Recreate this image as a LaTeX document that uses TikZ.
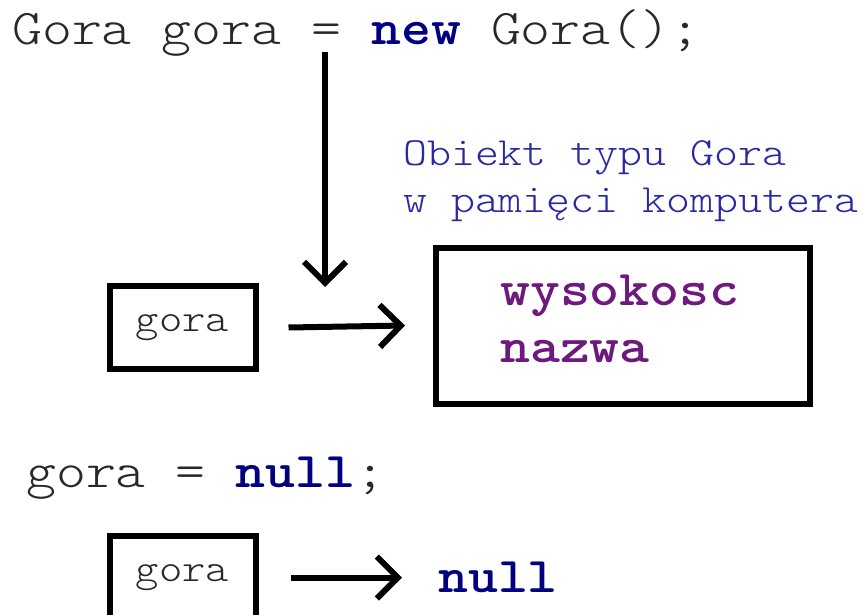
\documentclass[tikz,border=0pt]{standalone}
\usepackage{fontspec}
% light typewriter face widened to a 0.6em advance
\newfontfamily\codefont{lmmonolt10-regular.otf}[FakeStretch=1.14, BoldFont=lmmonolt10-bold.otf, BoldFeatures={FakeStretch=1.14}]
\usetikzlibrary{arrows.meta}
\definecolor{codegray}{RGB}{40,40,40}
\definecolor{kwnavy}{RGB}{0,0,128}
\definecolor{fieldpurple}{RGB}{110,25,125}
\definecolor{notesblue}{RGB}{40,40,165}
\begin{document}
\begin{tikzpicture}[x=1pt,y=-1pt,
  code/.style={inner sep=0pt, anchor=base west, text=codegray,
    font=\codefont\fontsize{50}{50}\selectfont},
  note/.style={inner sep=0pt, anchor=base west, text=notesblue,
    font=\codefont\fontsize{40}{40}\selectfont},
  field/.style={inner sep=0pt, anchor=base west, text=fieldpurple,
    font=\codefont\bfseries\fontsize{50}{50}\selectfont},
  refbox/.style={draw, line width=6pt, minimum width=146pt, minimum height=83pt,
    inner sep=0pt, text=codegray, font=\codefont\fontsize{39}{39}\selectfont},
  objbox/.style={draw, line width=6pt, minimum width=374pt, minimum height=156pt,
    inner sep=0pt},
  ptr/.style={line width=6pt, -{Straight Barb[length=21pt,width=42pt]}}
]
\useasboundingbox (0,0) rectangle (864,615);

% first statement: creating the object
\node[code] (decl) at (12,45) {Gora gora = \textbf{\color{kwnavy}new} Gora();};
\coordinate (declpt) at (325,52);
\coordinate (refpt) at (325,287);
\draw[ptr] (declpt) -- (refpt);

% reference variable and the object it points to
\node[refbox] (gora1) at (182.5,327.5) {gora};
\node[objbox] (obj) at (623,325.5) {};
\node[note] (note1) at (403,165) {Obiekt typu Gora};
\node[note] (note2) at (403,212) {w pami\k{e}ci komputera};
\node[field] (f1) at (500,305) {wysokosc};
\node[field] (f2) at (500,362) {nazwa};
\draw[ptr] ([xshift=30pt]gora1.east) -- ([xshift=-28pt]obj.west);

% second statement: clearing the reference
\node[code] (assign) at (26,487) {gora = \textbf{\color{kwnavy}null};};
\node[refbox] (gora2) at (182.5,577.5) {gora};
\node[code, text=kwnavy, font=\codefont\bfseries\fontsize{50}{50}\selectfont]
  (nullval) at (438,592) {null};
\coordinate (nullpt) at (402,577.5);
\draw[ptr] ([xshift=32pt]gora2.east) -- (nullpt);
\end{tikzpicture}
\end{document}
